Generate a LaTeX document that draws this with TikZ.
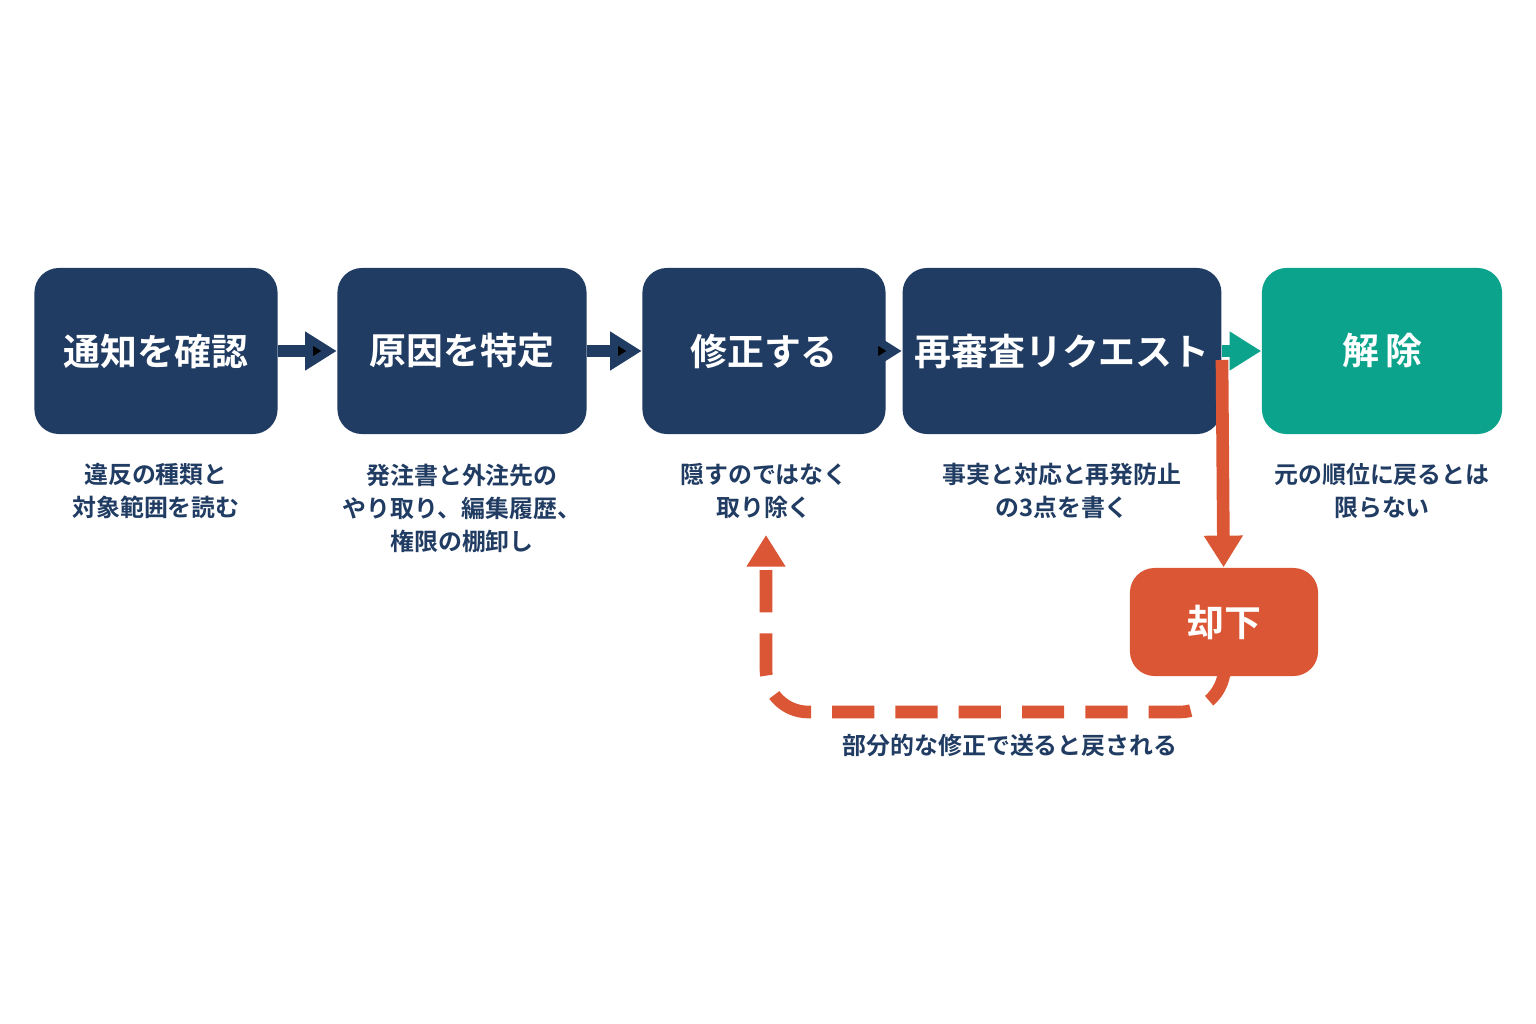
\documentclass[tikz,border=0pt]{standalone}
\usepackage{fontspec}
\newfontfamily\cjk{Noto Sans CJK JP}[BoldFont={Noto Sans CJK JP Bold}]
\usetikzlibrary{positioning,arrows.meta}
\definecolor{navy}{HTML}{213C63}
\definecolor{teal}{HTML}{0BA38C}
\definecolor{rust}{HTML}{DB5634}
\begin{document}
\begin{tikzpicture}[x=0.01cm,y=-0.01cm,font=\cjk\bfseries,
  stage/.style={fill=navy,rounded corners=7pt,text=white,font=\cjk\bfseries\fontsize{10.5}{12}\selectfont},
  note/.style={text=navy,align=center,font=\cjk\bfseries\fontsize{6.8}{9.4}\selectfont},
  flow/.style={line width=3.6pt,-{Triangle[length=9pt,width=10.5pt]}}]
   \useasboundingbox[fill=white] (0,0) rectangle (1536,1024);
   \node[stage,minimum width=2.43cm,minimum height=1.66cm] (notify) at (156,351) {通知を確認};
   \node[stage,minimum width=2.49cm,minimum height=1.66cm] (cause) at (462,351) {原因を特定};
   \node[stage,minimum width=2.43cm,minimum height=1.66cm] (fix) at (764,351) {修正する};
   \node[stage,minimum width=2.51cm,minimum height=1.66cm] (review) at (1062,351) {再審査リクエスト};
   \node[stage,fill=teal,minimum width=2.40cm,minimum height=1.66cm] (lift) at (1382,351) {解\,除};
   \node[stage,fill=rust,minimum width=1.88cm,minimum height=1.08cm] (reject) at (1224,622) {却下};
   \node[note] (n1) at (156,491) {違反の種類と\\対象範囲を読む};
   \node[note] (n2) at (462,508) {発注書と外注先の\\やり取り、編集履歴、\\権限の棚卸し};
   \node[note] (n3) at (764,491) {隠すのではなく\\取り除く};
   \node[note] (n4) at (1062,491) {事実と対応と再発防止\\の3点を書く};
   \node[note] (n5) at (1382,491) {元の順位に戻るとは\\限らない};
   \node[note] (n6) at (1010,745) {部分的な修正で送ると戻される};
   \coordinate (back) at (766,535);
   \path[flow,draw=navy]
     (notify) edge (cause) %1 to 2
     (cause) edge (fix) %2 to 3
     (fix) edge (review); %3 to 4
   \draw[flow,draw=teal] (review) -- (lift); %4 to 5
   \draw[flow,draw=rust] (1222,360) -- (reject); %down to reject
   \draw[rust,line width=3.6pt,dash pattern=on 12pt off 6pt,rounded corners=12pt,-{Triangle[length=9pt,width=10.5pt]}]
     (reject.south) -- (1222,712) -- (766,712) -- (back); %back to fix
\end{tikzpicture}
\end{document}
